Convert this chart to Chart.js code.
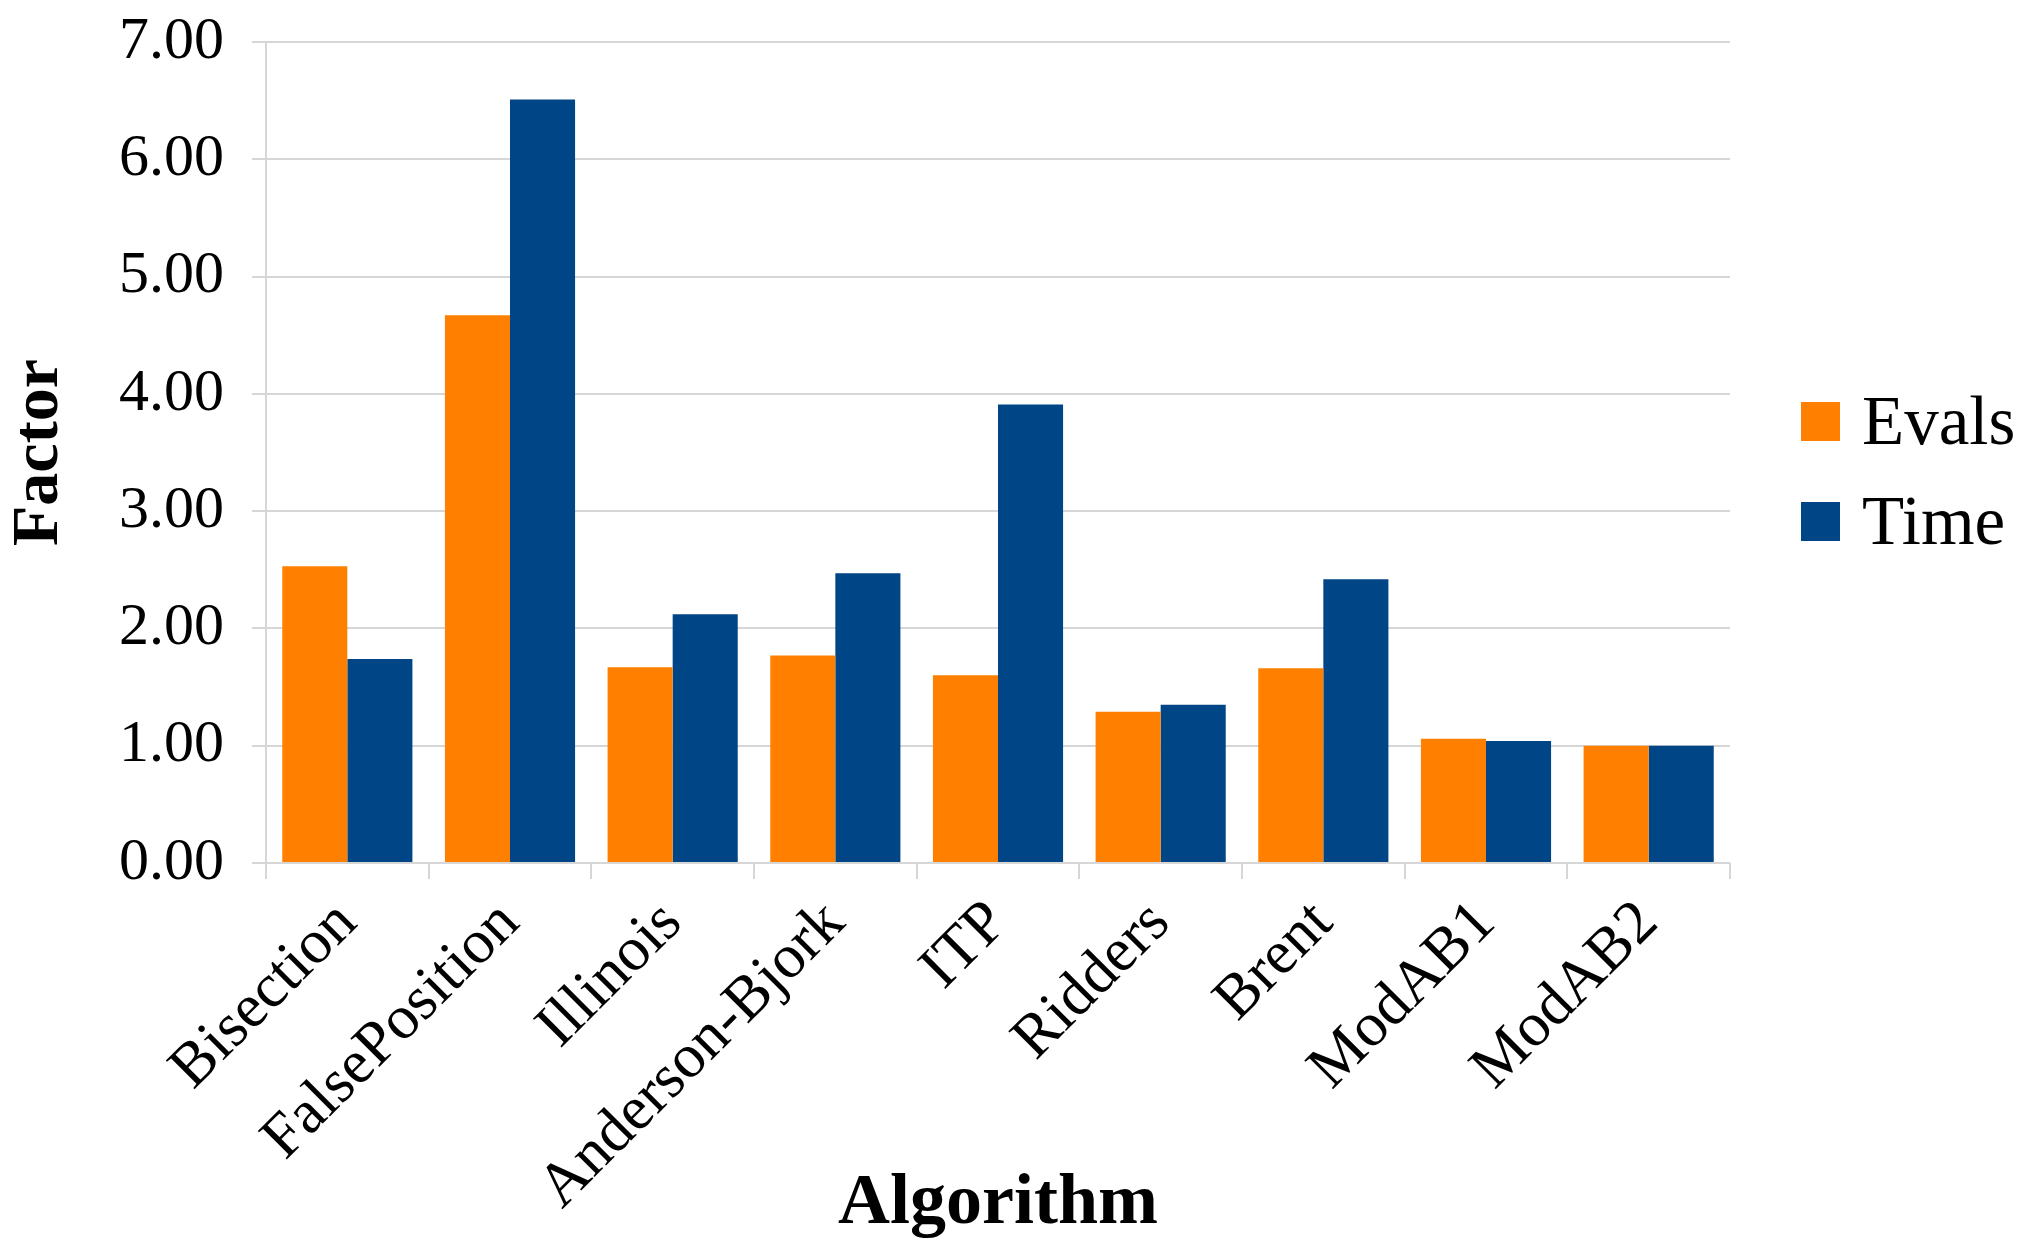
<!DOCTYPE html>
<html>
<head>
<meta charset="utf-8">
<script src="https://cdn.jsdelivr.net/npm/chart.js@4.4.1/dist/chart.umd.min.js"></script>
<style>
  html, body { margin: 0; padding: 0; background: #fff; }
  #wrap { position: relative; width: 2032px; height: 1256px; }
  #factor-legend { position: absolute; left: 1801px; top: 371px; font-family: "Liberation Serif", serif; font-size: 69px; color: #000; }
  #factor-legend .item { display: flex; align-items: center; height: 100px; }
  #factor-legend .box { width: 39px; height: 39px; margin-right: 22px; }
</style>
</head>
<body>
<div id="wrap">
  <canvas id="factor_chart" width="2032" height="1256"></canvas>
  <div id="factor-legend"></div>
</div>
<script>
// Chart data
var algorithms = ['Bisection', 'FalsePosition', 'Illinois', 'Anderson-Bjork', 'ITP', 'Ridders', 'Brent', 'ModAB1', 'ModAB2'];
var evals = [2.53, 4.67, 1.67, 1.77, 1.60, 1.29, 1.66, 1.06, 1.00];
var time = [1.74, 6.51, 2.12, 2.47, 3.91, 1.35, 2.42, 1.04, 1.00];
var yTicks = [0, 1, 2, 3, 4, 5, 6, 7];

var serif = '"Liberation Serif", "Times New Roman", serif';
var gridGrey = '#d6d6d6';

// Simple html legend built from the chart's own legend items
var htmlLegend = {
  id: 'htmlLegend',
  afterUpdate: function(chart, args, options) {
    var container = document.getElementById(options.containerID);
    container.innerHTML = '';
    var items = chart.options.plugins.legend.labels.generateLabels(chart);
    items.forEach(function(item) {
      var row = document.createElement('div');
      row.className = 'item';
      var box = document.createElement('span');
      box.className = 'box';
      box.style.background = item.fillStyle;
      var text = document.createElement('span');
      text.textContent = item.text;
      row.appendChild(box);
      row.appendChild(text);
      container.appendChild(row);
    });
  }
};

var ctx = document.getElementById('factor_chart').getContext('2d');
new Chart(ctx, {
  type: 'bar',
  data: {
    labels: algorithms,
    datasets: [
      {
        label: 'Evals',
        data: evals,
        backgroundColor: '#ff8000',
        categoryPercentage: 0.8,
        barPercentage: 1.0
      },
      {
        label: 'Time',
        data: time,
        backgroundColor: '#004586',
        categoryPercentage: 0.8,
        barPercentage: 1.0
      }
    ]
  },
  plugins: [htmlLegend],
  options: {
    responsive: false,
    animation: false,
    devicePixelRatio: 1,
    layout: {
      padding: { top: 42, right: 302, bottom: 0, left: 0 }
    },
    plugins: {
      legend: { display: false },
      tooltip: { enabled: false },
      htmlLegend: { containerID: 'factor-legend' }
    },
    scales: {
      x: {
        offset: true,
        afterFit: function(scale) {
          scale.height = 393;
          scale.paddingLeft = 0;
          scale.paddingRight = 0;
        },
        grid: {
          display: true,
          offset: true,
          lineWidth: 2,
          color: function(c) {
            return (c.index === 0 || c.index === algorithms.length) ? gridGrey : 'rgba(0,0,0,0)';
          },
          tickColor: gridGrey,
          tickLength: 16
        },
        border: { display: false },
        ticks: {
          color: '#000',
          font: { family: serif, size: 62 },
          minRotation: 45,
          maxRotation: 45,
          padding: 8
        },
        title: {
          display: true,
          text: 'Algorithm',
          color: '#000',
          font: { family: serif, size: 72, weight: 'bold' },
          padding: { top: 4, bottom: 8 }
        }
      },
      y: {
        min: yTicks[0],
        max: yTicks[yTicks.length - 1],
        afterFit: function(scale) {
          scale.width = 266;
          scale.paddingTop = 0;
          scale.paddingBottom = 0;
        },
        afterBuildTicks: function(scale) {
          scale.ticks = yTicks.map(function(v) { return { value: v }; });
        },
        grid: {
          color: gridGrey,
          lineWidth: 2,
          tickLength: 14
        },
        border: { display: false },
        ticks: {
          color: '#000',
          font: { family: serif, size: 60 },
          padding: 28,
          callback: function(value) { return Number(value).toFixed(2); }
        },
        title: {
          display: true,
          text: 'Factor',
          color: '#000',
          font: { family: serif, size: 66, weight: 'bold' },
          padding: { top: 0, bottom: 0 }
        }
      }
    }
  }
});
</script>
</body>
</html>
